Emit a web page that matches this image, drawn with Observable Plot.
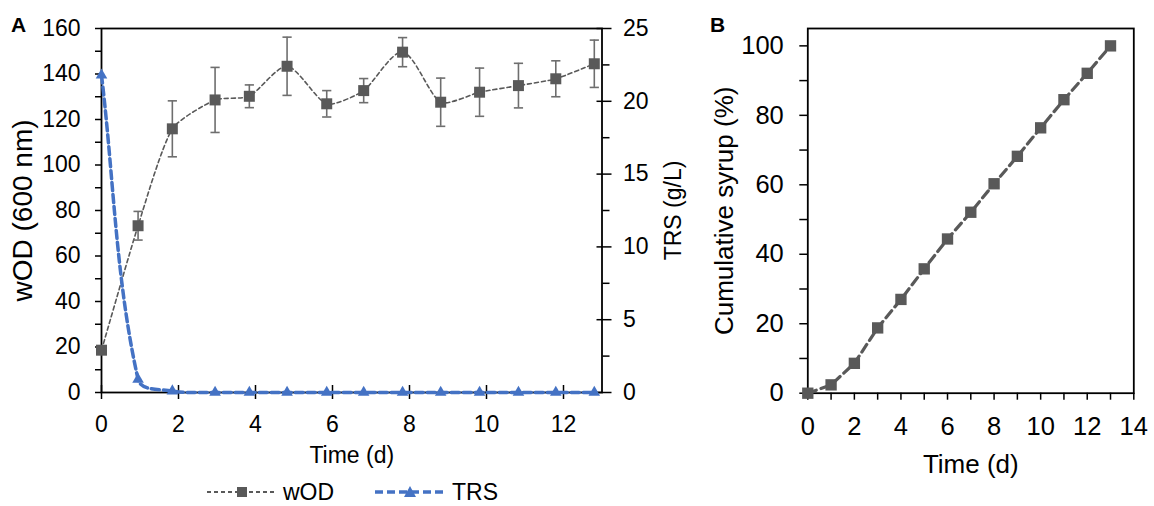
<!DOCTYPE html>
<html><head><meta charset="utf-8">
<script src="https://cdn.jsdelivr.net/npm/d3@7"></script>
<script src="https://cdn.jsdelivr.net/npm/@observablehq/plot@0.6"></script>
<style>
body{margin:0;background:#fff;font-family:"Liberation Sans",Arial,sans-serif;}
#wrap{position:relative;width:1154px;height:506px;overflow:hidden;background:#fff;}
#wrap > svg{position:absolute;top:0;}
.panel{position:absolute;font-weight:bold;font-size:21px;line-height:1;color:#000;z-index:5;}
</style></head><body>
<div id="wrap">
  <div class="panel" style="left:11px;top:14px;">A</div>
  <div class="panel" style="left:710px;top:14px;">B</div>
</div>
<script>
// ---- Panel A data ----
const dayA   = [0, 0.95, 1.84, 2.95, 3.84, 4.82, 5.85, 6.81, 7.82, 8.81, 9.82, 10.83, 11.8, 12.8];
const wOD    = [18.6, 73.3, 115.9, 128.6, 130.2, 143.4, 126.9, 132.7, 149.6, 127.6, 132.0, 134.9, 137.9, 144.5];
const wODerr = [0, 6.3, 12.3, 14.3, 5.0, 12.8, 5.8, 5.3, 6.4, 10.6, 10.6, 9.8, 7.9, 10.4];
const TRS    = [21.8, 0.9, 0.1, 0, 0, 0, 0, 0, 0, 0, 0, 0, 0, 0];
const wODTicks = [0, 20, 40, 60, 80, 100, 120, 140, 160];
const wODMinor = [10, 30, 50, 70, 90, 110, 130, 150];
const TRSTicks = [0, 5, 10, 15, 20, 25];
const TRSMinor = [2.5, 7.5, 12.5, 17.5, 22.5];
const xTicksA  = [0, 2, 4, 6, 8, 10, 12];
// ---- Panel B data ----
const dayB   = [0, 1, 2, 3, 4, 5, 6, 7, 8, 9, 10, 11, 12, 13];
const syrup  = [0, 2.4, 8.6, 18.8, 27.0, 35.8, 44.4, 52.1, 60.3, 68.2, 76.4, 84.5, 92.1, 100];
const yTicksB = [0, 20, 40, 60, 80, 100];
const yMinorB = [10, 30, 50, 70, 90];
const xTicksB = [0, 2, 4, 6, 8, 10, 12, 14];
const xMinorB = [1, 3, 5, 7, 9, 11, 13];

const GRAY = "#595959", BLUE = "#4472C4", BAR = "#6e6e6e";
const FONT = '"Liberation Sans", Arial, sans-serif';
const K = 160 / 25; // TRS -> wOD scale factor (right axis)

const capSymbol = {draw(ctx, size){ const w = Math.sqrt(size) / 2; ctx.moveTo(-w, 0); ctx.lineTo(w, 0); }};

// spreadsheet-style smoothed line: tangent along neighbour chord, handle = f * segment length
function smoothCurve(f) {
  return function(context) {
    let pts = [];
    return {
      areaStart() {}, areaEnd() {},
      lineStart() { pts = []; },
      point(x, y) { pts.push([+x, +y]); },
      lineEnd() {
        const n = pts.length;
        if (!n) return;
        context.moveTo(pts[0][0], pts[0][1]);
        if (n === 1) return;
        const tan = pts.map((p, i) => {
          const a = pts[Math.max(0, i - 1)], b = pts[Math.min(n - 1, i + 1)];
          const dx = b[0] - a[0], dy = b[1] - a[1], l = Math.hypot(dx, dy) || 1;
          return [dx / l, dy / l];
        });
        for (let i = 0; i < n - 1; i++) {
          const p = pts[i], q = pts[i + 1];
          const d = Math.hypot(q[0] - p[0], q[1] - p[1]) * f;
          context.bezierCurveTo(p[0] + tan[i][0] * d, p[1] + tan[i][1] * d,
                                q[0] - tan[i + 1][0] * d, q[1] - tan[i + 1][1] * d, q[0], q[1]);
        }
      }
    };
  };
}

const idxA = d3.range(dayA.length);
const idxErr = idxA.filter(i => wODerr[i] > 0);
const idxB = d3.range(dayB.length);

const plotA = Plot.plot({
  width: 700, height: 506,
  marginLeft: 101, marginRight: 98.5, marginTop: 28, marginBottom: 114,
  x: {domain: [0, 13]},
  y: {domain: [0, 160]},
  style: {fontFamily: FONT, fontSize: "23px", color: "#000", background: "transparent", overflow: "visible"},
  marks: [
    Plot.frame({stroke: "#000", strokeWidth: 1.8}),
    // left axis
    Plot.axisY(wODTicks, {anchor: "left", tickSize: 6, tickPadding: 15, strokeWidth: 1.5, fontSize: 23, label: null, tickFormat: d => d}),
    Plot.axisY(wODMinor, {anchor: "left", tickSize: 6, text: null, strokeWidth: 1.5, label: null}),
    // right axis (TRS)
    Plot.axisY(TRSTicks.map(v => v * K), {anchor: "right", tickSize: 0, tickPadding: 21, fontSize: 23, label: null, tickFormat: d => String(Math.round(d / K))}),
    Plot.axisY(TRSTicks.map(v => v * K), {anchor: "right", tickSize: 15, dx: -6, text: null, strokeWidth: 1.5, label: null}),
    Plot.axisY(TRSMinor.map(v => v * K), {anchor: "right", tickSize: 7, text: null, strokeWidth: 1.5, label: null}),
    // x axis
    Plot.axisX(xTicksA, {anchor: "bottom", tickSize: 0, tickPadding: 23, fontSize: 23, label: null, tickFormat: d => d}),
    Plot.axisX(xTicksA, {anchor: "bottom", tickSize: 14, dy: -7, text: null, strokeWidth: 1.5, label: null}),
    // titles
    Plot.text(["Time (d)"], {text: d => d, frameAnchor: "bottom", dy: 54, lineAnchor: "top", fontSize: 23}),
    Plot.text(["wOD (600 nm)"], {text: d => d, frameAnchor: "left", textAnchor: "middle", dx: -78, rotate: -90, fontSize: 28}),
    Plot.text(["TRS (g/L)"], {text: d => d, frameAnchor: "right", textAnchor: "middle", dx: 72, rotate: -90, fontSize: 23}),
    // wOD series
    Plot.line(idxA, {x: i => dayA[i], y: i => wOD[i], curve: smoothCurve(0.2), stroke: GRAY, strokeWidth: 1.6, strokeDasharray: "4,3"}),
    Plot.ruleX(idxErr, {x: i => dayA[i], y1: i => wOD[i] - wODerr[i], y2: i => wOD[i] + wODerr[i], stroke: BAR, strokeWidth: 1.6}),
    Plot.dot(idxErr, {x: i => dayA[i], y: i => wOD[i] - wODerr[i], symbol: capSymbol, r: 5.2, fill: "none", stroke: BAR, strokeWidth: 1.6}),
    Plot.dot(idxErr, {x: i => dayA[i], y: i => wOD[i] + wODerr[i], symbol: capSymbol, r: 5.2, fill: "none", stroke: BAR, strokeWidth: 1.6}),
    Plot.dot(idxA, {x: i => dayA[i], y: i => wOD[i], symbol: "square", r: 6.2, fill: GRAY, stroke: "none"}),
    // TRS series
    Plot.line(idxA, {x: i => dayA[i], y: i => TRS[i] * K, curve: smoothCurve(1 / 3), stroke: BLUE, strokeWidth: 3.5, strokeDasharray: "8,4"}),
    Plot.dot(idxA, {x: i => dayA[i], y: i => TRS[i] * K, symbol: "triangle", r: 4.3, fill: BLUE, stroke: "none"})
  ]
});
plotA.style.left = "0px";

const plotB = Plot.plot({
  width: 454, height: 506,
  marginLeft: 107.3, marginRight: 20.7, marginTop: 28, marginBottom: 113.3,
  x: {domain: [0, 14]},
  y: {domain: [0, 105]},
  style: {fontFamily: FONT, fontSize: "25px", color: "#000", background: "transparent", overflow: "visible"},
  marks: [
    Plot.frame({stroke: "#000", strokeWidth: 1.8}),
    Plot.axisY(yTicksB, {anchor: "left", tickSize: 8, tickPadding: 16, strokeWidth: 1.5, fontSize: 25.5, label: null, tickFormat: d => d}),
    Plot.axisY(yMinorB, {anchor: "left", tickSize: 8, text: null, strokeWidth: 1.5, label: null}),
    Plot.axisX(xTicksB, {anchor: "bottom", tickSize: 7, tickPadding: 17, strokeWidth: 1.5, fontSize: 25.5, label: null, tickFormat: d => d}),
    Plot.axisX(xMinorB, {anchor: "bottom", tickSize: 7, text: null, strokeWidth: 1.5, label: null}),
    Plot.text(["Time (d)"], {text: d => d, frameAnchor: "bottom", dy: 61, lineAnchor: "top", fontSize: 26}),
    Plot.text(["Cumulative syrup (%)"], {text: d => d, frameAnchor: "left", textAnchor: "middle", dx: -83, rotate: -90, fontSize: 26}),
    Plot.line(idxB, {x: i => dayB[i], y: i => syrup[i], stroke: GRAY, strokeWidth: 3.2, strokeDasharray: "9,5"}),
    Plot.dot(idxB, {x: i => dayB[i], y: i => syrup[i], symbol: "square", r: 6.4, fill: GRAY, stroke: "none"})
  ]
});
plotB.style.left = "700px";

const wrap = document.getElementById("wrap");
wrap.appendChild(plotA);
wrap.appendChild(plotB);

// legend (below panel A)
const ns = "http://www.w3.org/2000/svg";
const leg = document.createElementNS(ns, "svg");
leg.setAttribute("width", 1154); leg.setAttribute("height", 506);
leg.style.position = "absolute"; leg.style.left = "0px"; leg.style.top = "0px"; leg.style.pointerEvents = "none";
leg.innerHTML = `
  <line x1="207" x2="277" y1="492" y2="492" stroke="${GRAY}" stroke-width="2" stroke-dasharray="4,3"/>
  <rect x="237" y="487" width="10" height="10" fill="${GRAY}"/>
  <text x="283" y="500" font-family='${FONT}' font-size="23" fill="#000">wOD</text>
  <line x1="375" x2="447" y1="492" y2="492" stroke="${BLUE}" stroke-width="3.5" stroke-dasharray="8,4"/>
  <path d="M410,486 L416,497 L404,497 Z" fill="${BLUE}"/>
  <text x="452" y="500" font-family='${FONT}' font-size="23" fill="#000">TRS</text>`;
wrap.appendChild(leg);
</script>
</body></html>
